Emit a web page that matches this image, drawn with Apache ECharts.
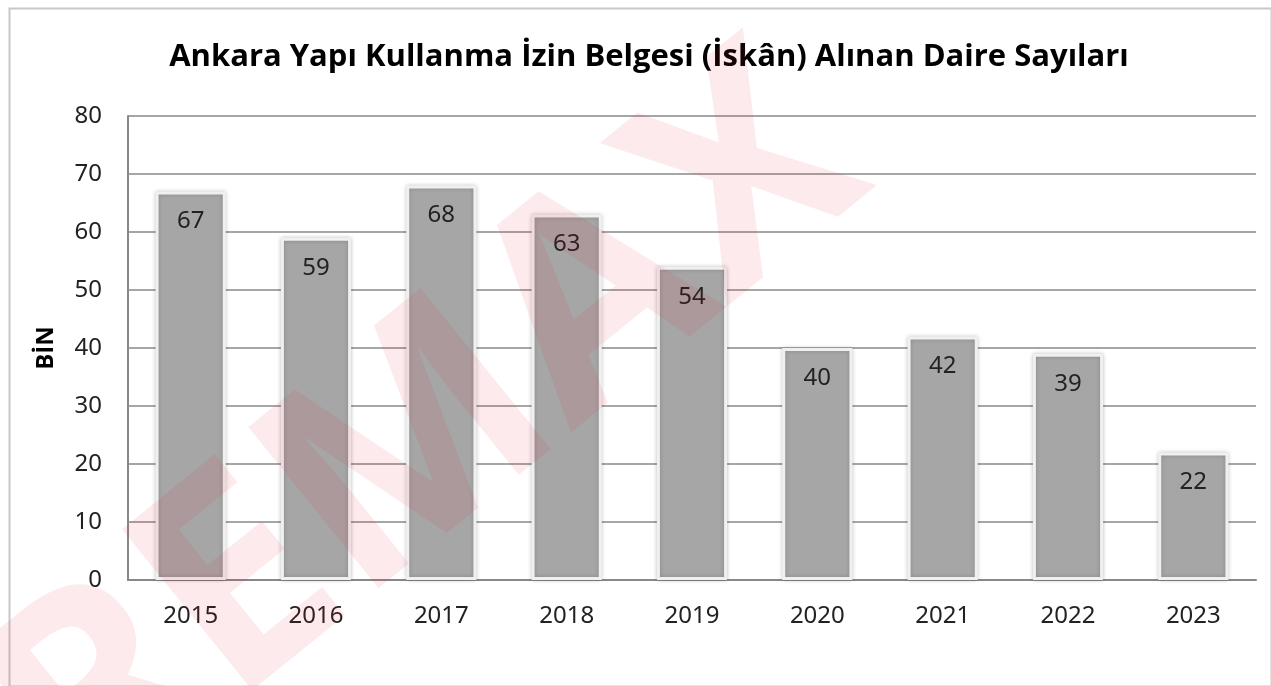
<!DOCTYPE html>
<html>
<head>
<meta charset="utf-8">
<script src="https://cdn.jsdelivr.net/npm/echarts@6/dist/echarts.min.js"></script>
<style>
  html, body { margin: 0; padding: 0; background: #fff; }
  #chart { width: 1271px; height: 686px; }
</style>
</head>
<body>
<div id="chart"></div>
<script>
const years = ['2015', '2016', '2017', '2018', '2019', '2020', '2021', '2022', '2023'];
const daire = [67, 59, 68, 63, 54, 40, 42, 39, 22];
const yTicks = [0, 10, 20, 30, 40, 50, 60, 70, 80];

const chart = echarts.init(document.getElementById('chart'));
chart.setOption({
  animation: false,
  backgroundColor: '#fff',
  title: {
    text: 'Ankara Yapı Kullanma İzin Belgesi (İskân) Alınan Daire Sayıları',
    left: 644,
    textAlign: 'center',
    top: 37,
    textStyle: { fontFamily: 'Open Sans', fontWeight: 'bold', fontSize: 31, color: '#000' }
  },
  graphic: [
    {
      type: 'rect', left: 7, top: 6, z: -1,
      shape: { width: 1262, height: 678 },
      style: { fill: 'none', stroke: '#c8c8c8', lineWidth: 2 }
    },
    {
      // watermark
      type: 'text', x: -60, y: 650, rotation: 0.68, z: 100, silent: true,
      style: {
        text: 'REMAX', fontSize: 290, fontWeight: 'bold', fontFamily: 'Open Sans',
        fill: 'rgba(225,20,40,0.09)'
      }
    }
  ],
  grid: { left: 128, right: 15, top: 116, bottom: 106 },
  xAxis: {
    type: 'category',
    data: years,
    axisLine: { lineStyle: { color: '#888', width: 2 } },
    axisTick: { show: false },
    axisLabel: { fontFamily: 'Noto Sans', fontSize: 24, color: '#222', margin: 24 }
  },
  yAxis: {
    type: 'value',
    min: yTicks[0],
    max: yTicks[yTicks.length - 1],
    interval: 10,
    name: 'BİN',
    nameLocation: 'middle',
    nameRotate: 90,
    nameGap: 70,
    nameTextStyle: { fontFamily: 'Open Sans', fontWeight: 'bold', fontSize: 24, color: '#000' },
    axisLine: { show: true, lineStyle: { color: '#888', width: 2 } },
    axisTick: { show: false },
    splitLine: { lineStyle: { color: '#888', width: 1.5 } },
    axisLabel: { fontFamily: 'Noto Sans', fontSize: 24, color: '#222', margin: 26 }
  },
  series: [{
    type: 'bar',
    data: daire,
    barWidth: '56%',
    itemStyle: {
      color: '#a6a6a6',
      borderColor: '#f0f0f0',
      borderWidth: 3,
      shadowColor: 'rgba(0,0,0,0.2)',
      shadowBlur: 4
    },
    label: {
      show: true,
      position: 'insideTop',
      distance: 18,
      fontFamily: 'Noto Sans',
      fontSize: 24,
      color: '#222'
    }
  }]
});
</script>
</body>
</html>
